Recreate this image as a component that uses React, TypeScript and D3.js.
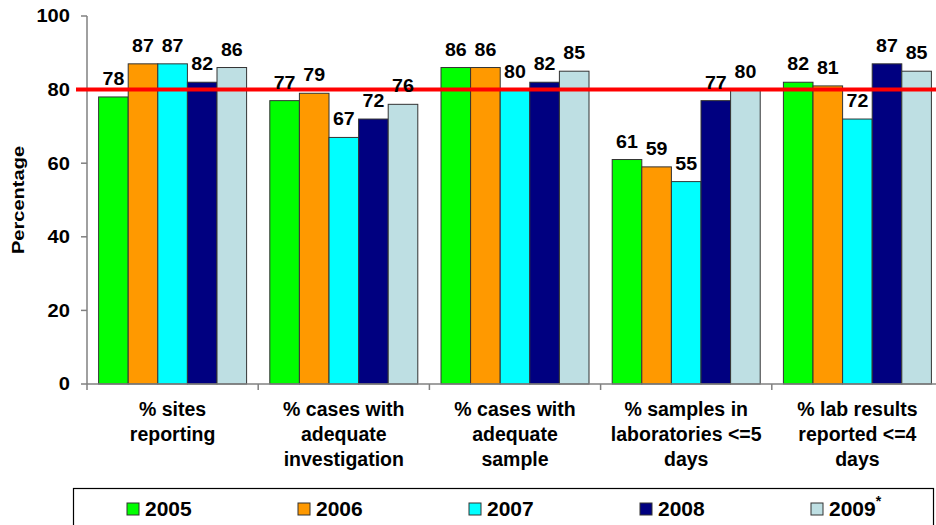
import React from "react";
import * as d3 from "d3";

const categories = [
  ["% sites", "reporting"],
  ["% cases with", "adequate", "investigation"],
  ["% cases with", "adequate", "sample"],
  ["% samples in", "laboratories <=5", "days"],
  ["% lab results", "reported <=4", "days"],
];
const years = ["2005", "2006", "2007", "2008", "2009"];
const v2005 = [78, 77, 86, 61, 82];
const v2006 = [87, 79, 86, 59, 81];
const v2007 = [87, 67, 80, 55, 72];
const v2008 = [82, 72, 82, 77, 87];
const v2009 = [86, 76, 85, 80, 85];
const seriesValues = [v2005, v2006, v2007, v2008, v2009];
const colors = ["#00FF00", "#FF9900", "#00FFFF", "#000080", "#BEDFE3"];
const yTicks = [0, 20, 40, 60, 80, 100];
const target = 80;

const W = 936;
const H = 525;
const FONT = "'Liberation Sans', Arial, Helvetica, sans-serif";

function SText({
  x,
  y,
  sx = 1,
  rotate = 0,
  size,
  anchor = "start",
  dy,
  children,
}: {
  x: number;
  y: number;
  sx?: number;
  rotate?: number;
  size: number;
  anchor?: string;
  dy?: string;
  children: React.ReactNode;
}) {
  return (
    <g transform={`translate(${x},${y}) rotate(${rotate}) scale(${sx},1)`}>
      <text
        x={0}
        y={0}
        dy={dy}
        textAnchor={anchor as any}
        fontSize={size}
        fontWeight="bold"
        fill="#000"
      >
        {children}
      </text>
    </g>
  );
}

export default function App() {
  const left = 87;
  const step = 171.2;
  const x0 = d3
    .scaleBand<number>()
    .domain(categories.map((_, i) => i))
    .range([left, left + step * categories.length])
    .padding(0);
  const x1 = d3
    .scaleBand<string>()
    .domain(years)
    .range([11.6, step - 11.6])
    .padding(0);
  const y = d3.scaleLinear().domain([0, 100]).range([384, 16]);

  return (
    <svg
      width={W}
      height={H}
      style={{ position: "absolute", left: 0, top: 0, background: "#fff" }}
      fontFamily={FONT}
    >
      <rect x={0} y={0} width={W} height={H} fill="#fff" />
      {/* bars */}
      {categories.map((_, ci) =>
        years.map((yr, si) => {
          const v = seriesValues[si][ci];
          const bx = (x0(ci) as number) + (x1(yr) as number);
          return (
            <rect
              key={`b${ci}-${si}`}
              x={bx}
              y={y(v)}
              width={x1.bandwidth()}
              height={y(0) - y(v)}
              fill={colors[si]}
              stroke="#333"
              strokeWidth={1}
            />
          );
        })
      )}
      {/* y axis */}
      <line x1={left} x2={left} y1={y(100)} y2={y(0)} stroke="#808080" strokeWidth={1.5} />
      {yTicks.map((t) => (
        <g key={`yt${t}`}>
          <line x1={left - 6} x2={left} y1={y(t)} y2={y(t)} stroke="#808080" strokeWidth={1.5} />
          <SText x={70} y={y(t)} dy="0.36em" anchor="end" size={17.5} sx={1.15}>
            {t}
          </SText>
        </g>
      ))}
      <SText x={24} y={y(50)} rotate={-90} anchor="middle" size={17} sx={1.18}>
        Percentage
      </SText>
      {/* x axis */}
      <line x1={left} x2={W} y1={y(0)} y2={y(0)} stroke="#808080" strokeWidth={1.5} />
      {categories.map((_, ci) => (
        <line
          key={`xt${ci}`}
          x1={x0(ci) as number}
          x2={x0(ci) as number}
          y1={y(0)}
          y2={y(0) + 6}
          stroke="#808080"
          strokeWidth={1.5}
        />
      ))}
      {categories.map((lines, ci) => (
        <text
          key={`xl${ci}`}
          x={(x0(ci) as number) + x0.bandwidth() / 2}
          y={416}
          textAnchor="middle"
          fontSize={19.5}
          fontWeight="bold"
          fill="#000"
        >
          {lines.map((l, li) => (
            <tspan key={li} x={(x0(ci) as number) + x0.bandwidth() / 2} dy={li === 0 ? 0 : 25}>
              {l}
            </tspan>
          ))}
        </text>
      ))}
      {/* target line */}
      <line x1={76} x2={W} y1={y(target)} y2={y(target)} stroke="#FF0000" strokeWidth={4} />
      {/* data labels */}
      {categories.map((_, ci) =>
        years.map((yr, si) => {
          const v = seriesValues[si][ci];
          const bx = (x0(ci) as number) + (x1(yr) as number) + x1.bandwidth() / 2;
          return (
            <SText key={`l${ci}-${si}`} x={bx} y={y(v) - 12} anchor="middle" size={18.5} sx={1.06}>
              {v}
            </SText>
          );
        })
      )}
      {/* legend */}
      <rect x={73.5} y={488.5} width={860} height={50} fill="#fff" stroke="#000" strokeWidth={1.2} />
      {years.map((yr, si) => {
        const lx = 127 + si * 171;
        return (
          <g key={`lg${si}`}>
            <rect x={lx} y={503} width={12} height={12} fill={colors[si]} stroke="#333" strokeWidth={1} />
            <text x={lx + 18} y={516} fontSize={21} fontWeight="bold" fill="#000">
              {yr}
              {si === years.length - 1 ? (
                <tspan dy={-10} fontSize={14}>
                  *
                </tspan>
              ) : null}
            </text>
          </g>
        );
      })}
    </svg>
  );
}
